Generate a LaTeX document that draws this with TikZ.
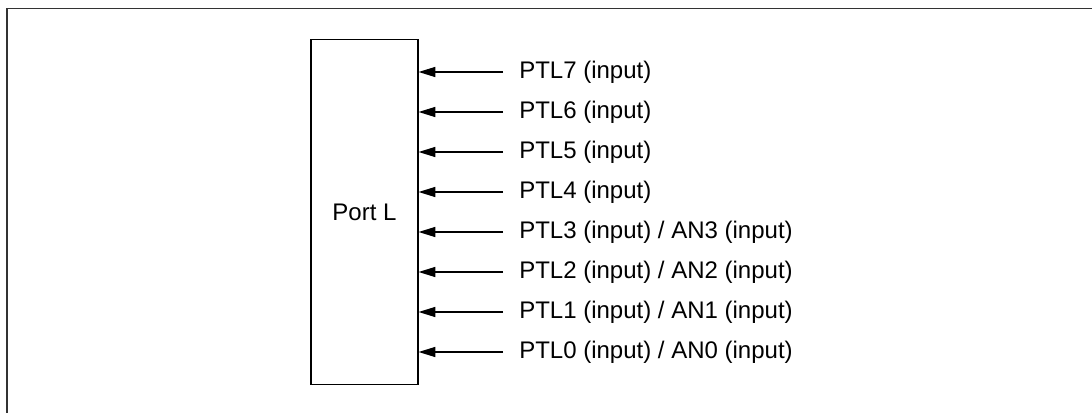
\documentclass[tikz,border=0pt]{standalone}
\usepackage{fontspec}
\setmainfont{Liberation Sans}
\usetikzlibrary{arrows.meta}

\begin{document}
\begin{tikzpicture}[x=0.75pt, y=-0.75pt, font=\fontsize{18}{21}\selectfont,
    pin/.style={anchor=west, inner xsep=12pt, inner ysep=0pt},
    wire/.style={-{Triangle[length=12.5pt,width=7.5pt]}, line width=0.9pt}]
        \useasboundingbox (0,0) rectangle (1092,413);
        \draw[line width=1.3pt, black!80] (7,413) -- (7,8.5) -- (1092,8.5);

        \node[draw, line width=0.9pt, minimum width=80.25pt, minimum height=258.75pt] (port) at (364.5,212) {Port L};

        % Broches du port L
        \node[pin] (ptl7) at (503,72) {PTL7 (input)};
        \node[pin] (ptl6) at (503,112) {PTL6 (input)};
        \node[pin] (ptl5) at (503,152) {PTL5 (input)};
        \node[pin] (ptl4) at (503,192) {PTL4 (input)};
        \node[pin] (ptl3) at (503,232) {PTL3 (input) / AN3 (input)};
        \node[pin] (ptl2) at (503,272) {PTL2 (input) / AN2 (input)};
        \node[pin] (ptl1) at (503,312) {PTL1 (input) / AN1 (input)};
        \node[pin] (ptl0) at (503,352) {PTL0 (input) / AN0 (input)};

        \draw[wire] (ptl7.west) -- (port.east |- ptl7.west);
        \draw[wire] (ptl6.west) -- (port.east |- ptl6.west);
        \draw[wire] (ptl5.west) -- (port.east |- ptl5.west);
        \draw[wire] (ptl4.west) -- (port.east |- ptl4.west);
        \draw[wire] (ptl3.west) -- (port.east |- ptl3.west);
        \draw[wire] (ptl2.west) -- (port.east |- ptl2.west);
        \draw[wire] (ptl1.west) -- (port.east |- ptl1.west);
        \draw[wire] (ptl0.west) -- (port.east |- ptl0.west);
    \end{tikzpicture}
\end{document}
